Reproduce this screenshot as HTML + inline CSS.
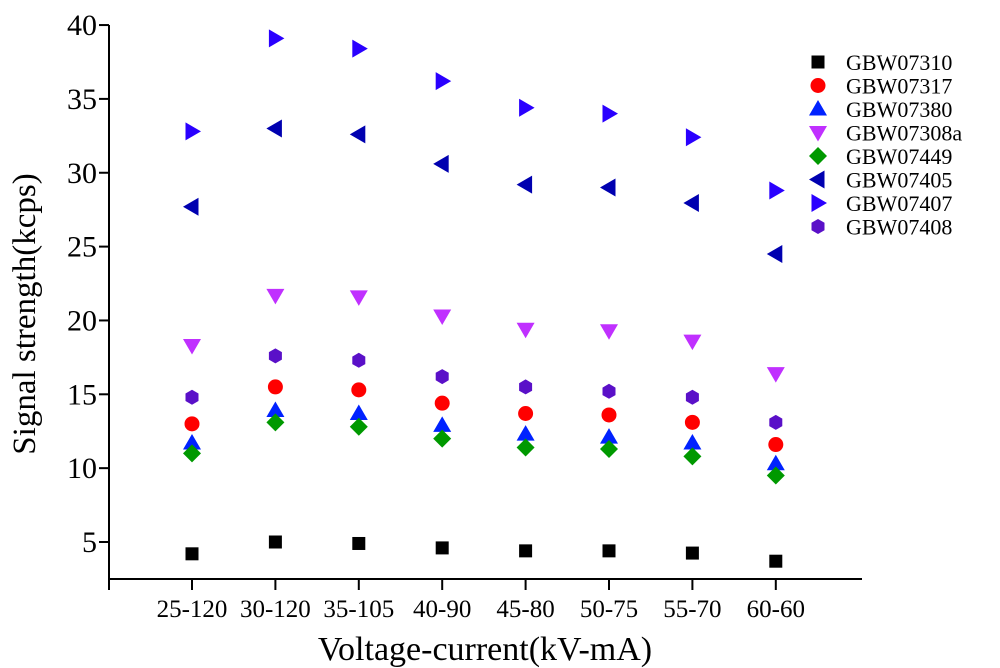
<!DOCTYPE html>
<html><head><meta charset="utf-8"><style>body{margin:0;background:#fff}svg{display:block;font-family:"Liberation Serif",serif}</style></head>
<body>
<svg id="c" width="1000" height="668" viewBox="0 0 1000 668"></svg>
<script>
const categories=["25-120","30-120","35-105","40-90","45-80","50-75","55-70","60-60"];
const yTicks=[5,10,15,20,25,30,35,40];
const seriesNames=["GBW07310","GBW07317","GBW07380","GBW07308a","GBW07449","GBW07405","GBW07407","GBW07408"];
const s07310=[4.2,5.0,4.9,4.6,4.4,4.4,4.25,3.7];
const s07317=[13.0,15.5,15.3,14.4,13.7,13.6,13.1,11.6];
const s07380=[11.7,13.9,13.7,12.9,12.3,12.1,11.7,10.3];
const s07308a=[18.3,21.7,21.6,20.3,19.4,19.3,18.6,16.4];
const s07449=[11.0,13.1,12.8,12.0,11.4,11.3,10.8,9.5];
const s07405=[27.7,33.0,32.6,30.6,29.2,29.0,27.95,24.5];
const s07407=[32.8,39.1,38.4,36.2,34.4,34.0,32.4,28.8];
const s07408=[14.8,17.6,17.3,16.2,15.5,15.2,14.8,13.1];
const seriesData=[s07310,s07317,s07380,s07308a,s07449,s07405,s07407,s07408];
const styles=[["square","#000"],["circle","#ff0000"],["up","#0022ff"],["down","#c030ff"],["diamond","#009900"],["left","#0000b0"],["right","#2a00ff"],["hex","#5a10c8"]];
const NS="http://www.w3.org/2000/svg",svg=document.getElementById('c');
function el(t,a,p){const e=document.createElementNS(NS,t);for(const k in a)e.setAttribute(k,a[k]);(p||svg).appendChild(e);return e;}
const x=i=>192+i*83.4, y=v=>542-(v-5)*14.77;
const ya=el('line',{x1:109,y1:25,x2:109,y2:579,stroke:'#000','stroke-width':2});


const xa=el('line',{x1:108,y1:579,x2:862,y2:579,stroke:'#000','stroke-width':2});


el('line',{x1:109,y1:579,x2:109,y2:590,stroke:'#000','stroke-width':2});
yTicks.forEach(v=>{el('line',{x1:99,y1:y(v),x2:109,y2:y(v),stroke:'#000','stroke-width':2});
 const t=el('text',{x:97,y:y(v)+10,'text-anchor':'end','font-size':30});t.textContent=v;
 
 });
categories.forEach((c,i)=>{el('line',{x1:x(i),y1:579,x2:x(i),y2:590,stroke:'#000','stroke-width':2});
 const t=el('text',{x:x(i),y:617,'text-anchor':'middle','font-size':25});t.textContent=c;
 
 });
let t=el('text',{x:485,y:660,'text-anchor':'middle','font-size':34});t.textContent="Voltage-current(kV-mA)";


t=el('text',{x:0,y:0,'text-anchor':'middle','font-size':33,transform:'translate(35,314) rotate(-90)'});t.textContent="Signal strength(kcps)";


function marker(type,cx,cy,col){const r=7.5;let p;
 if(type=='square')p=`${cx-6.5},${cy-6.5} ${cx+6.5},${cy-6.5} ${cx+6.5},${cy+6.5} ${cx-6.5},${cy+6.5}`;
 else if(type=='circle')return el('circle',{cx,cy,r:7.5,fill:col});
 else if(type=='up')p=`${cx},${cy-9} ${cx+9},${cy+6.5} ${cx-9},${cy+6.5}`;
 else if(type=='down')p=`${cx-9},${cy-6.5} ${cx+9},${cy-6.5} ${cx},${cy+9}`;
 else if(type=='diamond')p=`${cx},${cy-9} ${cx+9},${cy} ${cx},${cy+9} ${cx-9},${cy}`;
 else if(type=='left')p=`${cx-9},${cy} ${cx+6.5},${cy-9} ${cx+6.5},${cy+9}`;
 else if(type=='right')p=`${cx+9},${cy} ${cx-6.5},${cy-9} ${cx-6.5},${cy+9}`;
 else {p=[];for(let k=0;k<6;k++){const a=Math.PI/6+k*Math.PI/3;p.push((cx+r*Math.cos(a)).toFixed(1)+','+(cy+r*Math.sin(a)).toFixed(1));}p=p.join(' ');}
 return el('polygon',{points:p,fill:col});}
seriesData.forEach((d,s)=>{d.forEach((v,i)=>{const m=marker(styles[s][0],x(i),y(v),styles[s][1]);
 
 });
 const ly=62+s*23.5;const lm=marker(styles[s][0],818,ly,styles[s][1]);
 
 
 const lt=el('text',{x:846,y:ly+8,'font-size':22});lt.textContent=seriesNames[s];
 
 });
</script>
</body></html>
